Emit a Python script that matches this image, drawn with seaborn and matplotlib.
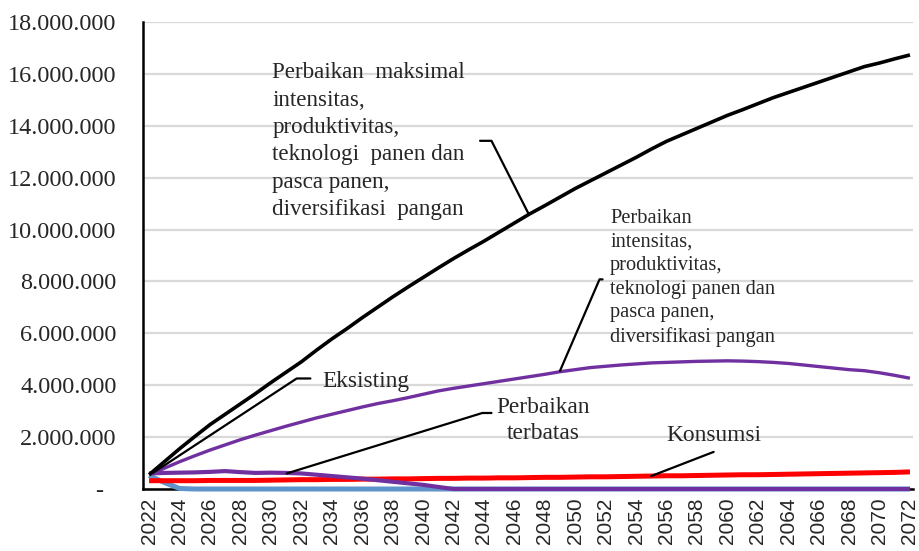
import matplotlib
matplotlib.use("Agg")
import matplotlib.pyplot as plt
import matplotlib.ticker as mticker
import seaborn as sns
import pandas as pd

# years on the category axis
years = list(range(2022, 2073))

# in millions
maksimal = [0.55, 1.05, 1.55, 2.02, 2.48, 2.88, 3.28, 3.68, 4.10, 4.50,
            4.90, 5.35, 5.78, 6.18, 6.60, 7.00, 7.40, 7.78, 8.15, 8.52,
            8.88, 9.22, 9.55, 9.90, 10.25, 10.60, 10.92, 11.25, 11.58, 11.88,
            12.18, 12.48, 12.78, 13.10, 13.40, 13.65, 13.90, 14.15, 14.40, 14.62,
            14.85, 15.08, 15.28, 15.48, 15.68, 15.88, 16.08, 16.28, 16.42, 16.58,
            16.73]
perbaikan = [0.55, 0.80, 1.05, 1.28, 1.50, 1.70, 1.90, 2.08, 2.25, 2.42,
             2.58, 2.74, 2.88, 3.02, 3.16, 3.29, 3.40, 3.52, 3.65, 3.78,
             3.88, 3.97, 4.06, 4.15, 4.24, 4.33, 4.42, 4.52, 4.60, 4.68,
             4.73, 4.78, 4.82, 4.86, 4.88, 4.90, 4.92, 4.93, 4.94, 4.93,
             4.91, 4.88, 4.84, 4.78, 4.72, 4.66, 4.60, 4.56, 4.48, 4.38,
             4.27]
terbatas = [0.60, 0.62, 0.63, 0.64, 0.66, 0.69, 0.65, 0.62, 0.63, 0.62,
            0.60, 0.55, 0.50, 0.45, 0.40, 0.34, 0.28, 0.22, 0.16, 0.08,
            0.0] + [0.0] * 30
konsumsi = [0.32, 0.32, 0.32, 0.32, 0.33, 0.33, 0.33, 0.33, 0.34, 0.35,
            0.36, 0.36, 0.37, 0.37, 0.38, 0.38, 0.39, 0.39, 0.40, 0.41,
            0.41, 0.42, 0.42, 0.43, 0.43, 0.44, 0.45, 0.45, 0.46, 0.47,
            0.47, 0.48, 0.49, 0.50, 0.51, 0.51, 0.52, 0.53, 0.54, 0.55,
            0.55, 0.56, 0.57, 0.58, 0.59, 0.60, 0.61, 0.62, 0.63, 0.64,
            0.66]
eksisting = [0.52, 0.25, 0.02] + [0.0] * 48

sns.set_theme(style="white")
plt.rcParams["font.family"] = ["Liberation Serif", "DejaVu Serif"]

df = pd.DataFrame({
    "year": years,
    "eksisting": [v * 1e6 for v in eksisting],
    "konsumsi": [v * 1e6 for v in konsumsi],
    "terbatas": [v * 1e6 for v in terbatas],
    "perbaikan": [v * 1e6 for v in perbaikan],
    "maksimal": [v * 1e6 for v in maksimal],
})

fig = plt.figure(figsize=(9.19, 5.51), dpi=100)
ax = fig.add_axes([143 / 919, 62 / 551, 770 / 919, 467 / 551])

styles = [
    ("eksisting", "#5F93CB", 3.6),
    ("konsumsi", "#FF0000", 3.6),
    ("terbatas", "#7030A0", 3.0),
    ("perbaikan", "#7030A0", 2.4),
    ("maksimal", "#000000", 2.6),
]
for col, color, lw in styles:
    sns.lineplot(data=df, x="year", y=col, color=color, linewidth=lw,
                 ax=ax, solid_capstyle="butt", zorder=3, clip_on=False)

ax.set_xlim(2021.6, 2072.2)
ax.set_ylim(0, 18e6)
ax.set_xlabel("")
ax.set_ylabel("")

ax.yaxis.set_major_locator(mticker.MultipleLocator(2e6))
ax.yaxis.set_major_formatter(mticker.FuncFormatter(
    lambda v, p: "-  " if v == 0 else f"{int(round(v)):,}".replace(",", ".")))
ax.set_xticks(years[::2])
ax.set_xticklabels([str(y) for y in years[::2]], rotation=90,
                   family=["Liberation Sans", "DejaVu Sans"], fontsize=15)
ax.tick_params(axis="y", labelsize=17.5, length=0, pad=19)
ax.tick_params(axis="x", length=0, pad=6)

ax.grid(axis="y", color="#D9D9D9", linewidth=1.6, zorder=0)
ax.set_axisbelow(True)
for side in ["top", "right"]:
    ax.spines[side].set_visible(False)
ax.spines["left"].set_color("black")
ax.spines["left"].set_linewidth(1.8)
ax.spines["bottom"].set_color("black")
ax.spines["bottom"].set_linewidth(1.8)

# labels with leader lines
lead = dict(color="black", linewidth=1.6, zorder=4)
ax.text(2030.1, 16.45e6,
        "Perbaikan  maksimal\nintensitas,\nproduktivitas,\nteknologi  panen dan\n"
        "pasca panen,\ndiversifikasi  pangan",
        fontsize=16.6, va="top", ha="left", linespacing=1.4)
ax.plot([2043.75, 2044.5, 2046.9], [13.42e6, 13.42e6, 10.65e6], **lead)

ax.text(2052.3, 10.78e6,
        "Perbaikan\nintensitas,\nproduktivitas,\nteknologi panen dan\n"
        "pasca panen,\ndiversifikasi pangan",
        fontsize=14.7, va="top", ha="left", linespacing=1.32)
ax.plot([2051.8, 2051.6, 2049.0], [8.08e6, 8.08e6, 4.55e6], **lead)

ax.text(2033.4, 4.15e6, "Eksisting", fontsize=16.8, va="center", ha="left")
ax.plot([2032.6, 2031.7, 2022.25], [4.26e6, 4.26e6, 0.62e6], **lead)

ax.text(2047.9, 2.65e6, "Perbaikan\nterbatas", fontsize=16.8,
        va="center", ha="center", linespacing=1.3)
ax.plot([2044.5, 2043.9, 2031.05], [2.93e6, 2.93e6, 0.6e6], **lead)

ax.text(2059.1, 2.08e6, "Konsumsi", fontsize=16.8, va="center", ha="center")
ax.plot([2059.1, 2055.0], [1.43e6, 0.5e6], **lead)

fig.savefig("out.png", dpi=100)
